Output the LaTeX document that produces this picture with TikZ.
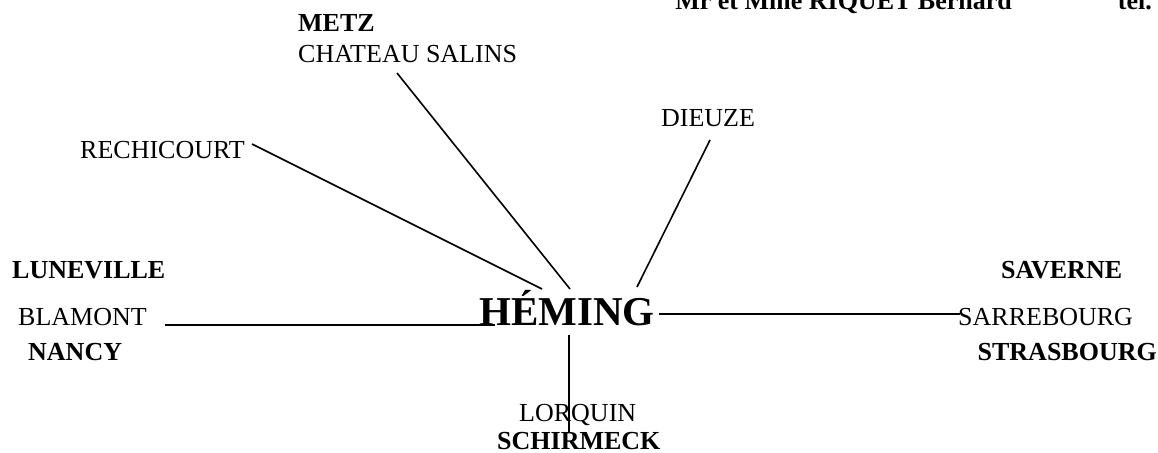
\documentclass[tikz,border=0pt]{standalone}
\usepackage{fontspec}
\setmainfont{Liberation Serif}
\begin{document}
\begin{tikzpicture}[x=1pt,y=-1pt,
  lbl/.style={inner sep=0pt,font=\fontsize{26}{28}\selectfont},
  blbl/.style={inner sep=0pt,font=\fontsize{26}{28}\selectfont\bfseries},
  hub/.style={inner sep=0pt,font=\fontsize{41}{44}\selectfont\bfseries},
  link/.style={line width=1.6pt}]
\useasboundingbox (0,0) rectangle (1158,452);
% header (cut off at top)
\node[blbl,anchor=base east] (owner) at (1012,10) {Mr et Mme RIQUET Bernard};
\node[blbl,anchor=base east] (tel) at (1152,10) {tel.};
% labels
\node[blbl,anchor=base west] (metz) at (298,32) {METZ};
\node[lbl,anchor=base west] (chateau) at (298,63) {CHATEAU SALINS};
\node[lbl,anchor=base] (dieuze) at (708,126) {DIEUZE};
\node[lbl,anchor=base east] (rechi) at (245,158) {RECHICOURT};
\node[blbl,anchor=base west] (luneville) at (12,278) {LUNEVILLE};
\node[blbl,anchor=base west] (saverne) at (1001,278) {SAVERNE};
\node[lbl,anchor=base west] (blamont) at (18,325) {BLAMONT};
\node[hub,anchor=base west] (heming) at (479,325) {HÉMING};
\node[lbl,anchor=base west] (sarre) at (958,325) {SARREBOURG};
\node[blbl,anchor=base west] (nancy) at (28,360) {NANCY};
\node[blbl,anchor=base east] (stras) at (1157,360) {STRASBOURG};
\node[lbl,anchor=base west] (lorquin) at (519,421) {LORQUIN};
\node[blbl,anchor=base west] (schir) at (497,449) {SCHIRMECK};
% line ends
\coordinate (rA) at (252,144);  \coordinate (rB) at (542,289);
\coordinate (cA) at (397,73);   \coordinate (cB) at (570,289);
\coordinate (dA) at (710,140);  \coordinate (dB) at (637,287);
\coordinate (bA) at (165,325);  \coordinate (bB) at (495,325);
\coordinate (sA) at (659,314);  \coordinate (sB) at (960,314);
\coordinate (lA) at (569,335);  \coordinate (lB) at (569,433);
\draw[link] (rA) -- (rB);
\draw[link] (cA) -- (cB);
\draw[link] (dA) -- (dB);
\draw[link] (bA) -- (bB);
\draw[link] (sA) -- (sB);
\draw[link] (lA) -- (lB);
\end{tikzpicture}
\end{document}
